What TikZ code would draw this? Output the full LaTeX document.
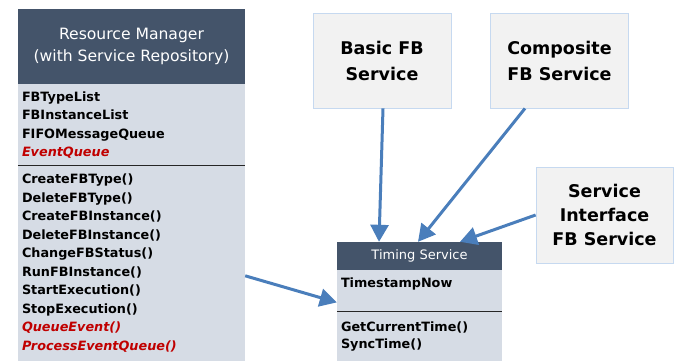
\documentclass[tikz,border=0pt]{standalone}
\usepackage{fontspec}
\setmainfont{DejaVu Sans}
\usetikzlibrary{positioning,arrows.meta}
\definecolor{headblue}{HTML}{44546A}
\definecolor{bodyblue}{HTML}{D6DCE5}
\definecolor{svcgray}{HTML}{F2F2F2}
\definecolor{svcline}{HTML}{C6D9F0}
\definecolor{linkblue}{HTML}{4A7EBB}
\definecolor{evred}{HTML}{C00000}
\newcommand{\evt}[1]{\textcolor{evred}{\itshape #1}}

\begin{document}
\begin{tikzpicture}[x=1pt,y=-1pt,
    classhead/.style={fill=headblue, text=white, inner sep=0pt, align=center},
    classbody/.style={fill=bodyblue, inner xsep=4pt, inner ysep=0pt, align=left,
      font=\fontsize{12.8}{18.5}\selectfont\bfseries},
    svcbox/.style={fill=svcgray, draw=svcline, line width=0.8pt, inner sep=0pt,
      minimum width=138pt, minimum height=95pt, align=center,
      font=\fontsize{17.5}{26}\selectfont\bfseries},
    link/.style={draw=linkblue, line width=3pt, -{Triangle[length=17pt,width=18pt]}},
    divider/.style={line width=1.6pt, black!85}]
  \useasboundingbox (0,0) rectangle (678,360);

  \node[classhead, minimum width=227pt, minimum height=75pt,
    font=\fontsize{15.6}{22}\selectfont] (rm) at (131.5,46.5)
    {Resource Manager\\(with Service Repository)};
  \node[classbody, below=0pt of rm, minimum height=81pt, text width=219pt] (rmattr)
    {FBTypeList\\FBInstanceList\\FIFOMessageQueue\\\evt{EventQueue}};
  \node[classbody, below=0pt of rmattr, minimum height=195pt, text width=219pt] (rmops)
    {CreateFBType()\\DeleteFBType()\\CreateFBInstance()\\DeleteFBInstance()\\
     ChangeFBStatus()\\RunFBInstance()\\StartExecution()\\StopExecution()\\
     \evt{QueueEvent()}\\\evt{ProcessEventQueue()}};
  \draw[divider] (rmattr.south west) -- (rmattr.south east);

  \node[classhead, minimum width=165pt, minimum height=28pt,
    font=\fontsize{13}{15}\selectfont] (ts) at (419.5,256) {Timing Service};
  \node[classbody, below=0pt of ts, minimum height=41pt, text width=157pt] (tsattr)
    {TimestampNow\\[-8pt]\strut};
  \node[classbody, below=0pt of tsattr, minimum height=49pt, text width=157pt,
    font=\fontsize{12.8}{17.5}\selectfont\bfseries] (tsops)
    {GetCurrentTime()\\SyncTime()};
  \draw[divider] (tsattr.south west) -- (tsattr.south east);

  \node[svcbox] (basic) at (382,60.5) {Basic FB\\Service};
  \node[svcbox] (composite) at (559.5,60.5) {Composite\\FB Service};
  \node[svcbox, minimum width=137pt, minimum height=96pt,
    font=\fontsize{17.5}{24}\selectfont\bfseries] (iface) at (604.5,215)
    {Service\\Interface\\FB Service};

  \draw[link] ([xshift=1pt]basic.south) -- ([xshift=-40.5pt]ts.north);
  \draw[link] ([xshift=-34.5pt]composite.south) -- ([xshift=-1.5pt]ts.north);
  \draw[link] (iface.west) -- ([xshift=40.5pt]ts.north);
  \draw[link] ([yshift=-12.5pt]rmops.east) -- ([yshift=-11.5pt]tsattr.west);
\end{tikzpicture}
\end{document}
